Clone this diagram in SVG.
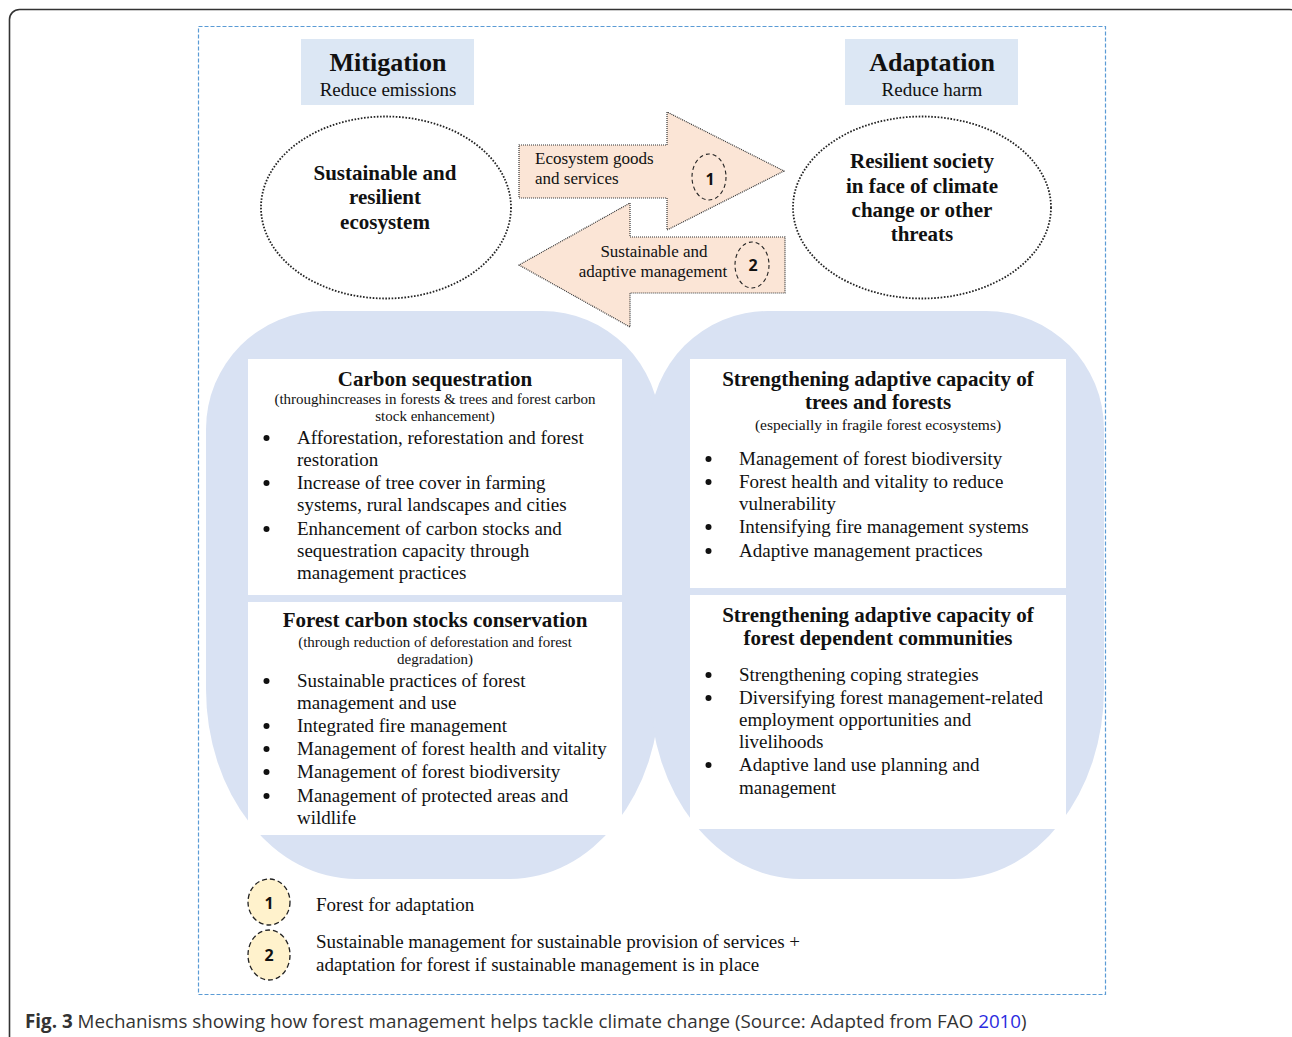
<svg xmlns="http://www.w3.org/2000/svg" width="1292" height="1037" viewBox="0 0 1292 1037">
<style>
.serif{font-family:"Liberation Serif","Times New Roman",serif;fill:#111}
.b{font-weight:bold}
.hdr{fill:#dce7f4}
.panel{fill:#d9e2f3}
.wbox{fill:#ffffff}
.ell{fill:#ffffff;stroke:#222;stroke-width:1.8;stroke-dasharray:1.6 1.6}
.arrow{fill:#fbe5d6;stroke:#333;stroke-width:1.2;stroke-dasharray:1 1}
.num{fill:none;stroke:#222;stroke-width:1.1;stroke-dasharray:4 3}
.numL{fill:#fff2cc;stroke:#222;stroke-width:1.3;stroke-dasharray:5 3}
.numt{font-family:"Open Sans","Liberation Sans",sans-serif;font-weight:bold;font-size:16px;fill:#111;text-anchor:middle}
.bul{fill:#111}
.t21{font-size:21px}
.t19{font-size:19px}
.t17{font-size:17px}
.t15{font-size:15px}
.mid{text-anchor:middle}
.cap{font-family:"Open Sans","Liberation Sans",sans-serif;font-size:18.8px;fill:#333}
</style>
<rect x="9.5" y="9.5" width="1290" height="1100" rx="10" fill="#ffffff" stroke="#333" stroke-width="1.6"/>
<rect x="198.5" y="26.5" width="907" height="968" fill="none" stroke="#5b9bd5" stroke-width="1.2" stroke-dasharray="4 2"/>

<g id="mitigation">
<rect class="hdr" x="301" y="39" width="173" height="66"/>
<text class="serif b mid" x="388" y="71" font-size="26">Mitigation</text>
<text class="serif mid t19" x="388" y="96">Reduce emissions</text>
</g>
<g id="adaptation">
<rect class="hdr" x="845" y="39" width="173" height="66"/>
<text class="serif b mid" x="932" y="71" font-size="26">Adaptation</text>
<text class="serif mid t19" x="932" y="96">Reduce harm</text>
</g>

<g id="ecosystem">
<ellipse class="ell" cx="386" cy="207.5" rx="125" ry="91"/>
<text class="serif b mid t21" x="385" y="180">Sustainable and</text>
<text class="serif b mid t21" x="385" y="204">resilient</text>
<text class="serif b mid t21" x="385" y="229">ecosystem</text>
</g>
<g id="society">
<ellipse class="ell" cx="922" cy="207.5" rx="129" ry="91"/>
<text class="serif b mid t21" x="922" y="168">Resilient society</text>
<text class="serif b mid t21" x="922" y="193">in face of climate</text>
<text class="serif b mid t21" x="922" y="217">change or other</text>
<text class="serif b mid t21" x="922" y="241">threats</text>
</g>

<g id="connectors">
<g id="arrow1">
<polygon class="arrow" points="519,145 667,145 667,112 784,171 667,230 667,198 519,198"/>
<text class="serif t17" x="535" y="164">Ecosystem goods</text>
<text class="serif t17" x="535" y="184">and services</text>
<ellipse class="num" cx="709" cy="177" rx="17" ry="23"/>
<text class="numt" x="710" y="185">1</text>
</g>
<g id="arrow2">
<polygon class="arrow" points="785,237 630,237 630,203 519,265 630,327 630,293 785,293"/>
<text class="serif t17 mid" x="654" y="257">Sustainable and</text>
<text class="serif t17 mid" x="653" y="277">adaptive management</text>
<ellipse class="num" cx="752" cy="265" rx="17" ry="23"/>
<text class="numt" x="753" y="271">2</text>
</g>
</g>

<g id="mitigation-panel">
<path class="panel" d="M324,311 H542 A118,118 0 0 1 660,429 V689 A150,190 0 0 1 510,879 H356 A150,190 0 0 1 206,689 V429 A118,118 0 0 1 324,311 Z"/>
</g>
<g id="adaptation-panel">
<path class="panel" d="M768,311 H986 A118,118 0 0 1 1104,429 V689 A150,190 0 0 1 954,879 H800 A150,190 0 0 1 650,689 V429 A118,118 0 0 1 768,311 Z"/>
</g>

<g id="carbon-sequestration">
<rect class="wbox" x="248" y="359" width="374" height="236"/>
<text class="serif b mid t21" x="435" y="386">Carbon sequestration</text>
<text class="serif mid t15" x="435" y="404">(throughincreases in forests &amp; trees and forest carbon</text>
<text class="serif mid t15" x="435" y="421">stock enhancement)</text>
<g class="bul">
<circle cx="266.5" cy="438" r="3"/>
<circle cx="266.5" cy="483" r="3"/>
<circle cx="266.5" cy="529" r="3"/>
</g>
<g class="serif t19">
<text x="297" y="444">Afforestation, reforestation and forest</text>
<text x="297" y="466">restoration</text>
<text x="297" y="489">Increase of tree cover in farming</text>
<text x="297" y="511">systems, rural landscapes and cities</text>
<text x="297" y="535">Enhancement of carbon stocks and</text>
<text x="297" y="557">sequestration capacity through</text>
<text x="297" y="579">management practices</text>
</g>
</g>

<g id="carbon-conservation">
<rect class="wbox" x="248" y="602" width="374" height="233"/>
<text class="serif b mid t21" x="435" y="627">Forest carbon stocks conservation</text>
<text class="serif mid t15" x="435" y="647">(through reduction of deforestation and forest</text>
<text class="serif mid t15" x="435" y="664">degradation)</text>
<g class="bul">
<circle cx="266.5" cy="681" r="3"/>
<circle cx="266.5" cy="726" r="3"/>
<circle cx="266.5" cy="749" r="3"/>
<circle cx="266.5" cy="772" r="3"/>
<circle cx="266.5" cy="796" r="3"/>
</g>
<g class="serif t19">
<text x="297" y="687">Sustainable practices of forest</text>
<text x="297" y="709">management and use</text>
<text x="297" y="732">Integrated fire management</text>
<text x="297" y="755">Management of forest health and vitality</text>
<text x="297" y="778">Management of forest biodiversity</text>
<text x="297" y="802">Management of protected areas and</text>
<text x="297" y="824">wildlife</text>
</g>
</g>

<g id="adaptive-trees">
<rect class="wbox" x="690" y="359" width="376" height="229"/>
<text class="serif b mid t21" x="878" y="386">Strengthening adaptive capacity of</text>
<text class="serif b mid t21" x="878" y="409">trees and forests</text>
<text class="serif mid" font-size="15.5" x="878" y="430">(especially in fragile forest ecosystems)</text>
<g class="bul">
<circle cx="708.5" cy="459" r="3"/>
<circle cx="708.5" cy="482" r="3"/>
<circle cx="708.5" cy="527" r="3"/>
<circle cx="708.5" cy="551" r="3"/>
</g>
<g class="serif t19">
<text x="739" y="465">Management of forest biodiversity</text>
<text x="739" y="488">Forest health and vitality to reduce</text>
<text x="739" y="510">vulnerability</text>
<text x="739" y="533">Intensifying fire management systems</text>
<text x="739" y="557">Adaptive management practices</text>
</g>
</g>

<g id="adaptive-communities">
<rect class="wbox" x="690" y="595" width="376" height="234"/>
<text class="serif b mid t21" x="878" y="622">Strengthening adaptive capacity of</text>
<text class="serif b mid t21" x="878" y="645">forest dependent communities</text>
<g class="bul">
<circle cx="708.5" cy="675" r="3"/>
<circle cx="708.5" cy="698" r="3"/>
<circle cx="708.5" cy="765" r="3"/>
</g>
<g class="serif t19">
<text x="739" y="681">Strengthening coping strategies</text>
<text x="739" y="704">Diversifying forest management-related</text>
<text x="739" y="726">employment opportunities and</text>
<text x="739" y="748">livelihoods</text>
<text x="739" y="771">Adaptive land use planning and</text>
<text x="739" y="794">management</text>
</g>
</g>

<g id="legend">
<ellipse class="numL" cx="269" cy="902" rx="21" ry="23"/>
<text class="numt" x="269" y="909">1</text>
<text class="serif t19" x="316" y="911">Forest for adaptation</text>
<ellipse class="numL" cx="269" cy="955" rx="21" ry="25"/>
<text class="numt" x="269" y="961">2</text>
<text class="serif t19" x="316" y="948">Sustainable management for sustainable provision of services +</text>
<text class="serif t19" x="316" y="971">adaptation for forest if sustainable management is in place</text>
</g>

<text class="cap" x="25" y="1028"><tspan font-weight="bold">Fig. 3</tspan> Mechanisms showing how forest management helps tackle climate change (Source: Adapted from FAO <tspan fill="#2b2be0">2010</tspan>)</text>
</svg>
